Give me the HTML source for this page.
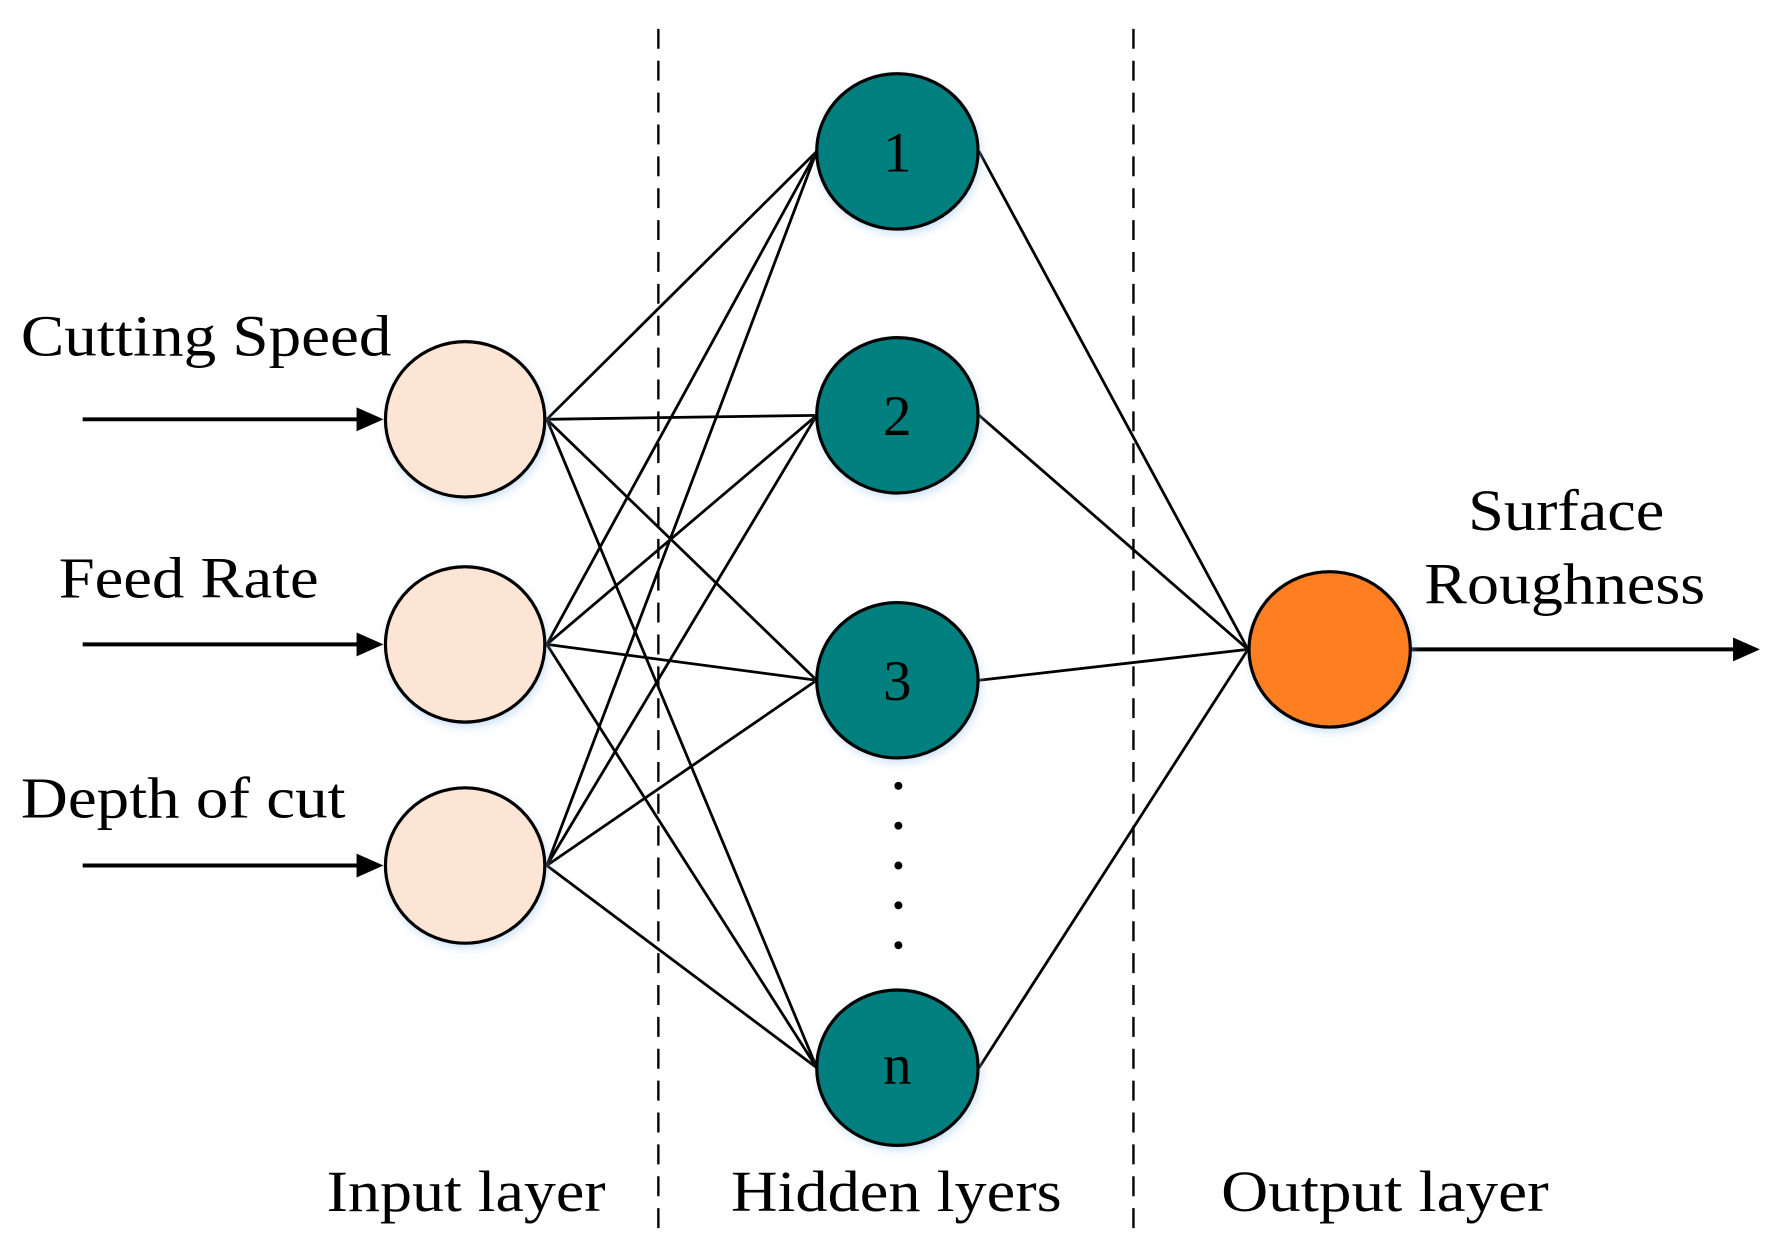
<!DOCTYPE html>
<html><head><meta charset="utf-8"><style>html,body{margin:0;padding:0;background:#fff;}svg{display:block}</style></head>
<body>
<svg width="1784" height="1252" viewBox="0 0 1784 1252" xmlns="http://www.w3.org/2000/svg" font-family="'Liberation Serif', serif">
<defs>
<filter id="sh" x="-30%" y="-30%" width="160%" height="160%"><feGaussianBlur stdDeviation="5"/></filter>
</defs>
<g transform="scale(0.996)">
<g stroke="#000" stroke-width="2.4" stroke-dasharray="20,12">
<line x1="661" y1="29" x2="661" y2="1235"/>
<line x1="1138" y1="29" x2="1138" y2="1235"/>
</g>
<g stroke="#000" stroke-width="2.8">
<line x1="549" y1="421" x2="820" y2="152"/><line x1="549" y1="421" x2="820" y2="417"/><line x1="549" y1="421" x2="820" y2="683"/><line x1="549" y1="421" x2="820" y2="1072"/>
<line x1="549" y1="647" x2="820" y2="152"/><line x1="549" y1="647" x2="820" y2="417"/><line x1="549" y1="647" x2="820" y2="683"/><line x1="549" y1="647" x2="820" y2="1072"/>
<line x1="549" y1="869" x2="820" y2="152"/><line x1="549" y1="869" x2="820" y2="417"/><line x1="549" y1="869" x2="820" y2="683"/><line x1="549" y1="869" x2="820" y2="1072"/>
<line x1="983" y1="152" x2="1253" y2="652"/><line x1="983" y1="417" x2="1253" y2="652"/><line x1="983" y1="683" x2="1253" y2="652"/><line x1="983" y1="1072" x2="1253" y2="652"/>
</g>
<g stroke="#000" stroke-width="4">
<line x1="83" y1="421" x2="365" y2="421"/><line x1="83" y1="647" x2="365" y2="647"/><line x1="83" y1="869" x2="365" y2="869"/>
<line x1="1416" y1="652" x2="1745" y2="652"/>
</g>
<g fill="#000">
<polygon points="385,421 358,409 358,433"/><polygon points="385,647 358,635 358,659"/><polygon points="385,869 358,857 358,881"/>
<polygon points="1767,652 1740,640 1740,664"/>
</g>
<g fill="#9cc6ee" opacity="0.6" filter="url(#sh)">
<ellipse cx="469" cy="425" rx="80" ry="78"/><ellipse cx="469" cy="651" rx="80" ry="78"/><ellipse cx="469" cy="873" rx="80" ry="78"/>
<ellipse cx="903" cy="156" rx="81" ry="78"/><ellipse cx="903" cy="421" rx="81" ry="78"/><ellipse cx="903" cy="687" rx="81" ry="78"/><ellipse cx="903" cy="1076" rx="81" ry="78"/>
<ellipse cx="1337" cy="656" rx="81" ry="78"/>
</g>
<g stroke="#000" stroke-width="3.2">
<ellipse cx="467" cy="421" rx="80" ry="78" fill="#fde5d6"/><ellipse cx="467" cy="647" rx="80" ry="78" fill="#fde5d6"/><ellipse cx="467" cy="869" rx="80" ry="78" fill="#fde5d6"/>
<ellipse cx="901" cy="152" rx="81" ry="78" fill="#007f7f"/><ellipse cx="901" cy="417" rx="81" ry="78" fill="#007f7f"/><ellipse cx="901" cy="683" rx="81" ry="78" fill="#007f7f"/><ellipse cx="901" cy="1072" rx="81" ry="78" fill="#007f7f"/>
<ellipse cx="1335" cy="652" rx="81" ry="78" fill="#fd7f22"/>
</g>
<g fill="#000">
<circle cx="902" cy="789" r="4"/><circle cx="902" cy="829" r="4"/><circle cx="902" cy="869" r="4"/><circle cx="902" cy="909" r="4"/><circle cx="902" cy="949" r="4"/>
</g>
<g font-size="57" text-anchor="middle" fill="#000">
<text x="901" y="172">1</text><text x="901" y="437">2</text><text x="901" y="703">3</text><text x="901" y="1088">n</text>
</g>
<g font-size="58" fill="#000">
<text x="21" y="357" textLength="372" lengthAdjust="spacingAndGlyphs">Cutting Speed</text>
<text x="59" y="600" textLength="261" lengthAdjust="spacingAndGlyphs">Feed Rate</text>
<text x="21" y="821" textLength="326" lengthAdjust="spacingAndGlyphs">Depth of cut</text>
<text x="1474" y="532" textLength="197" lengthAdjust="spacingAndGlyphs">Surface</text>
<text x="1430" y="606" textLength="282" lengthAdjust="spacingAndGlyphs">Roughness</text>
<text x="328" y="1216" textLength="280" lengthAdjust="spacingAndGlyphs">Input layer</text>
<text x="734" y="1216" textLength="332" lengthAdjust="spacingAndGlyphs">Hidden lyers</text>
<text x="1226" y="1216" textLength="329" lengthAdjust="spacingAndGlyphs">Output layer</text>
</g>
</g>
</svg>
</body></html>
